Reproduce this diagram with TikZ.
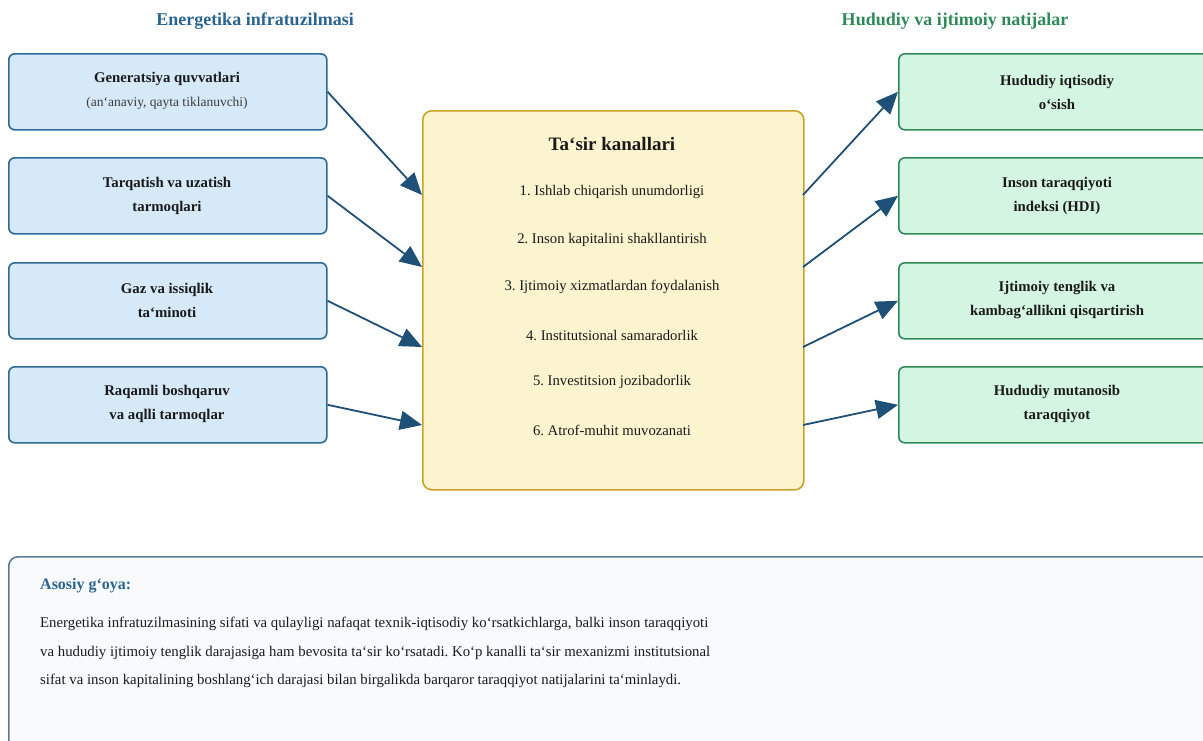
\documentclass[tikz,border=0pt]{standalone}
\usepackage{fontspec}
\setmainfont{Liberation Serif}
\usetikzlibrary{arrows.meta,positioning,calc}
\definecolor{hdrblue}{HTML}{2A6592}
\definecolor{hdrgreen}{HTML}{2E8B57}
\definecolor{lfill}{HTML}{D6E9F8}
\definecolor{ldraw}{HTML}{2E6A96}
\definecolor{rfill}{HTML}{D5F5E3}
\definecolor{rdraw}{HTML}{2E8B57}
\definecolor{cfill}{HTML}{FCF3CF}
\definecolor{cdraw}{HTML}{C9A227}
\definecolor{bfill}{HTML}{F8FAFB}
\definecolor{bdraw}{HTML}{5B7A94}
\definecolor{arr}{HTML}{1F5078}
\definecolor{txt}{HTML}{1A1A1A}
\tikzset{
  lbox/.style={draw=ldraw, fill=lfill, line width=1.6pt, rounded corners=6pt,
    minimum width=318pt, minimum height=76pt, anchor=north west, inner sep=0pt},
  rbox/.style={draw=rdraw, fill=rfill, line width=1.6pt, rounded corners=6pt,
    minimum width=318pt, minimum height=76pt, anchor=north west, inner sep=0pt},
  btxt/.style={text=txt, align=center, font=\fontsize{14.8}{24}\selectfont\bfseries},
  ctxt/.style={text=txt, font=\fontsize{14.7}{16}\selectfont},
  hdr/.style={font=\fontsize{18}{20}\selectfont\bfseries},
  conn/.style={draw=arr, line width=1.8pt, -{Triangle[length=22pt,width=19pt]}},
}
\begin{document}
\frenchspacing
\begin{tikzpicture}[x=1pt,y=-1pt]
\useasboundingbox (0,0) rectangle (1203,740);
\clip (0,0) rectangle (1203,740);
\fill[white] (0,0) rectangle (1203,740);

% headers
\node[hdr, text=hdrblue] (hl) at (255,21) {Energetika infratuzilmasi};
\node[hdr, text=hdrgreen] (hr) at (955,21) {Hududiy va ijtimoiy natijalar};

% left boxes
\node[lbox] (l1) at (8,53) {};
\node[lbox] (l2) at (8,157) {};
\node[lbox] (l3) at (8,262) {};
\node[lbox] (l4) at (8,366) {};
\node[btxt] (l1a) at (167,79) {Generatsiya quvvatlari};
\node[text=txt!85, font=\fontsize{13.5}{15}\selectfont] (l1b) at (167,103) {(an‘anaviy, qayta tiklanuvchi)};
\node[btxt] (l2t) at (167,196) {Tarqatish va uzatish\\tarmoqlari};
\node[btxt] (l3t) at (167,300) {Gaz va issiqlik\\ta‘minoti};
\node[btxt] (l4t) at (167,404) {Raqamli boshqaruv\\va aqlli tarmoqlar};

% right boxes
\node[rbox] (r1) at (898,53) {};
\node[rbox] (r2) at (898,157) {};
\node[rbox] (r3) at (898,262) {};
\node[rbox] (r4) at (898,366) {};
\node[btxt] (r1t) at (1057,92) {Hududiy iqtisodiy\\o‘sish};
\node[btxt] (r2t) at (1057,196) {Inson taraqqiyoti\\indeksi (HDI)};
\node[btxt] (r3t) at (1057,300) {Ijtimoiy tenglik va\\kambag‘allikni qisqartirish};
\node[btxt] (r4t) at (1057,404) {Hududiy mutanosib\\taraqqiyot};

% center box
\node[draw=cdraw, fill=cfill, line width=1.6pt, rounded corners=9pt,
  minimum width=381pt, minimum height=379pt, anchor=north west, inner sep=0pt] (c) at (422,110) {};
\node[text=txt, font=\fontsize{19}{21}\selectfont\bfseries] (ct) at (612,144) {Ta‘sir kanallari};
\node[ctxt] (c1) at (612,192) {1. Ishlab chiqarish unumdorligi};
\node[ctxt] (c2) at (612,240) {2. Inson kapitalini shakllantirish};
\node[ctxt] (c3) at (612,287) {3. Ijtimoiy xizmatlardan foydalanish};
\node[ctxt] (c4) at (612,335) {4. Institutsional samaradorlik};
\node[ctxt] (c5) at (612,382) {5. Investitsion jozibadorlik};
\node[ctxt] (c6) at (612,430) {6. Atrof-muhit muvozanati};

% connector endpoints on the center box
\coordinate (ci1) at (422,195);
\coordinate (ci2) at (422,267);
\coordinate (ci3) at (422,347);
\coordinate (ci4) at (422,425);
\coordinate (co1) at (803,195);
\coordinate (co2) at (803,267);
\coordinate (co3) at (803,347);
\coordinate (co4) at (803,425);

\draw[conn] (l1.east) -- (ci1);
\draw[conn] (l2.east) -- (ci2);
\draw[conn] (l3.east) -- (ci3);
\draw[conn] (l4.east) -- (ci4);
\draw[conn] (co1) -- (r1.west);
\draw[conn] (co2) -- (r2.west);
\draw[conn] (co3) -- (r3.west);
\draw[conn] (co4) -- (r4.west);

% bottom box
\node[draw=bdraw, fill=bfill, line width=1.6pt, rounded corners=9pt,
  minimum width=1208pt, minimum height=220pt, anchor=north west, inner sep=0pt] (b) at (8,556) {};
\node[anchor=west, inner sep=0pt, text=hdrblue, font=\fontsize{16}{18}\selectfont\bfseries] (bt) at (40,586) {Asosiy g‘oya:};
\node[anchor=north west, text=txt, align=left, inner sep=0pt, font=\fontsize{14.8}{28.6}\selectfont] (bp) at (40,617)
 {Energetika infratuzilmasining sifati va qulayligi nafaqat texnik-iqtisodiy ko‘rsatkichlarga, balki inson taraqqiyoti\\
  va hududiy ijtimoiy tenglik darajasiga ham bevosita ta‘sir ko‘rsatadi. Ko‘p kanalli ta‘sir mexanizmi institutsional\\
  sifat va inson kapitalining boshlang‘ich darajasi bilan birgalikda barqaror taraqqiyot natijalarini ta‘minlaydi.};
\end{tikzpicture}
\end{document}
